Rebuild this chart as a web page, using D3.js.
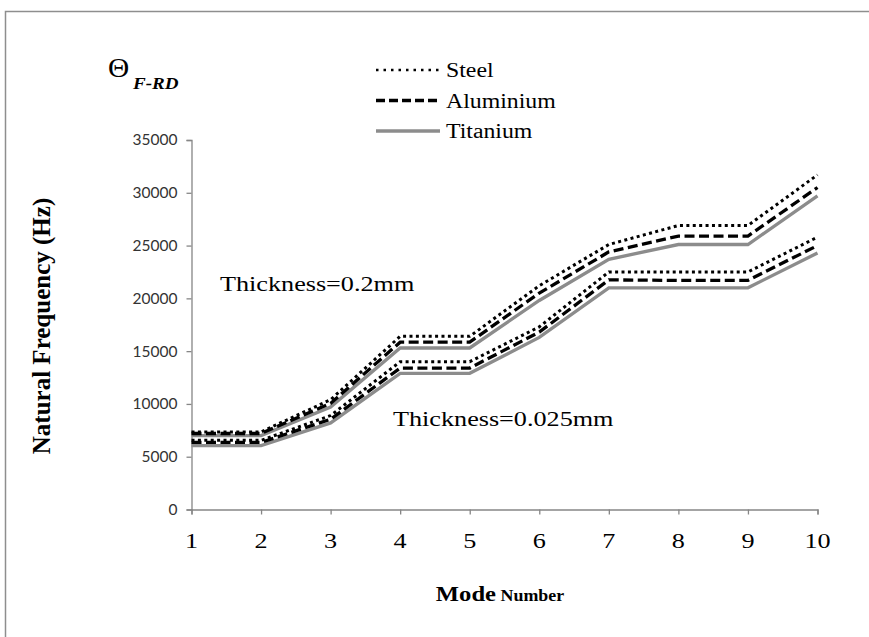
<!DOCTYPE html>
<meta charset="utf-8">
<style>
  body { margin: 0; background: #fff; }
  .serif { font-family: "Liberation Serif", "Times New Roman", serif; fill: #000; }
</style>
<script src="https://d3js.org/d3.v7.min.js"></script>

<div id="my_dataviz"></div>
<script>

  // mode numbers on the x axis
  var modes = [1, 2, 3, 4, 5, 6, 7, 8, 9, 10]
  var yTicks = [0, 5000, 10000, 15000, 20000, 25000, 30000, 35000]

  // thickness = 0.2mm
  var steelThick = [7350, 7350, 10400, 16400, 16400, 21200, 25100, 26900, 26900, 31700]
  var aluThick   = [7200, 7200, 10050, 15850, 15850, 20500, 24400, 25900, 25900, 30500]
  var tiThick    = [7000, 7000, 9700, 15300, 15300, 19800, 23700, 25100, 25100, 29700]

  // thickness = 0.025mm
  var steelThin = [6550, 6550, 8900, 14000, 14000, 17300, 22500, 22500, 22500, 25800]
  var aluThin   = [6350, 6350, 8550, 13400, 13400, 16800, 21750, 21700, 21700, 25000]
  var tiThin    = [6050, 6050, 8200, 12900, 12900, 16300, 21000, 21000, 21000, 24300]

  var materials = ["Steel", "Aluminium", "Titanium"]

  var width = 869,
      height = 637

  var svg = d3.select("#my_dataviz")
    .append("svg")
      .attr("width", width)
      .attr("height", height)

  // outer frame
  svg.append("rect")
    .attr("x", 5.5).attr("y", 11.5)
    .attr("width", 900).attr("height", 700)
    .attr("fill", "none")
    .attr("stroke", "#8e8e8e")
    .attr("stroke-width", 1.5)

  var x = d3.scaleLinear().domain([1, 10]).range([191.5, 817.5])
  var y = d3.scaleLinear().domain([0, 35000]).range([509.5, 140])

  var sx = 1.19 // the serif text in the picture is a bit wide

  function serifText(px, py, str, size, anchor, weight) {
    return svg.append("text")
      .attr("class", "serif")
      .attr("transform", "translate(" + px + "," + py + ") scale(" + sx + ",1)")
      .attr("text-anchor", anchor || "start")
      .style("font-size", size + "px")
      .style("font-weight", weight || "normal")
      .text(str)
  }

  // y axis
  var yAxis = svg.append("g")
    .attr("transform", "translate(" + x(1) + ",0)")
    .call(d3.axisLeft(y).tickValues(yTicks).tickSize(5).tickPadding(9).tickFormat(d3.format("d")))
  yAxis.select(".domain").attr("stroke", "#868686").attr("stroke-width", 1.3)
  yAxis.selectAll(".tick line").attr("stroke", "#868686").attr("stroke-width", 1.3)
  yAxis.selectAll(".tick text")
    .style("font-family", "Lato, 'Open Sans', sans-serif")
    .style("font-size", "15.5px")
    .attr("fill", "#333")

  // x axis
  var xAxis = svg.append("g")
    .attr("transform", "translate(0," + y(0) + ")")
    .call(d3.axisBottom(x).tickValues(modes).tickSize(5).tickFormat(""))
  xAxis.select(".domain").attr("stroke", "#868686").attr("stroke-width", 1.3)
  xAxis.selectAll(".tick line").attr("stroke", "#868686").attr("stroke-width", 1.3)

  modes.forEach(function(m) {
    serifText(x(m), 548, m, 22, "middle")
  })

  // series
  var styles = {
    Steel:     { stroke: "#000", width: 3, dash: "3,3.4" },
    Aluminium: { stroke: "#000", width: 3.3, dash: "10,4.5" },
    Titanium:  { stroke: "#8c8c8c", width: 3.3, dash: null }
  }

  var series = [
    { name: "Titanium", values: tiThick },
    { name: "Titanium", values: tiThin },
    { name: "Aluminium", values: aluThick },
    { name: "Aluminium", values: aluThin },
    { name: "Steel", values: steelThick },
    { name: "Steel", values: steelThin }
  ]

  var line = d3.line()
    .x(function(d, i) { return x(modes[i]) })
    .y(function(d) { return y(d) })

  svg.selectAll("allLines")
    .data(series)
    .enter()
    .append("path")
      .attr("d", function(d) { return line(d.values) })
      .attr("fill", "none")
      .attr("stroke", function(d) { return styles[d.name].stroke })
      .attr("stroke-width", function(d) { return styles[d.name].width })
      .attr("stroke-dasharray", function(d) { return styles[d.name].dash })

  // legend
  materials.forEach(function(m, i) {
    var ly = 70 + i * 30.5
    svg.append("line")
      .attr("x1", 376).attr("x2", 440)
      .attr("y1", ly).attr("y2", ly)
      .attr("stroke", styles[m].stroke)
      .attr("stroke-width", m == "Steel" ? 2.5 : styles[m].width)
      .attr("stroke-dasharray", m == "Steel" ? "2.5,5" : (m == "Aluminium" ? "9,4" : null))
    serifText(446, ly + 7, m, 20)
  })

  // labels
  serifText(220, 291, "Thickness=0.2mm", 22)
  serifText(393, 426, "Thickness=0.025mm", 22)

  svg.append("text")
    .attr("class", "serif")
    .attr("transform", "translate(108,77) scale(1.05,1)")
    .style("font-size", "28px")
    .text("\u0398")
  svg.append("text")
    .attr("class", "serif")
    .attr("transform", "translate(133,89) scale(" + sx + ",1)")
    .style("font-size", "16px")
    .style("font-style", "italic")
    .style("font-weight", "bold")
    .text("F-RD")

  svg.append("text")
    .attr("class", "serif")
    .attr("transform", "translate(50,326) rotate(-90)")
    .attr("text-anchor", "middle")
    .style("font-size", "25px")
    .style("font-weight", "bold")
    .text("Natural Frequency (Hz)")

  var xt = svg.append("text")
    .attr("class", "serif")
    .attr("transform", "translate(500,601) scale(1.12,1)")
    .attr("text-anchor", "middle")
    .style("font-weight", "bold")
  xt.append("tspan").style("font-size", "22px").text("Mode")
  xt.append("tspan").style("font-size", "16px").text(" Number")

</script>
